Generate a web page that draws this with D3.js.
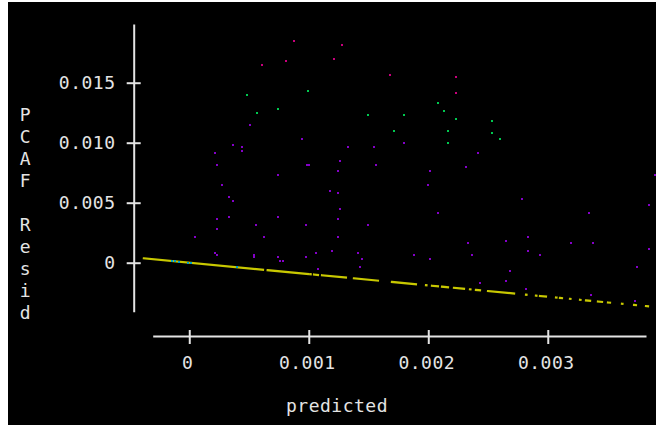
<!DOCTYPE html>
<html>
<head>
<meta charset="utf-8">
<script src="https://cdn.jsdelivr.net/npm/d3@7"></script>
<style>
  html, body { margin: 0; padding: 0; background: #ffffff; }
  svg { display: block; }
  text { font-family: "DejaVu Sans Mono", "Liberation Mono", monospace; font-size: 18px; letter-spacing: 0.5px; }
</style>
</head>
<body>
<svg id="chart" width="656" height="425"></svg>
<script>
// Axis tick values
const predTicks = [0, 0.001, 0.002, 0.003];
const residTicks = [0, 0.005, 0.010, 0.015];

// Axis titles
const xTitle = "predicted";
const yTitle = "PCAF Resid";

// Points with observed = 0: runs of consecutive points (start / end of each run)
const zeroRunPredStart  = [-0.000380, 0.000656, 0.001012, 0.001044, 0.001111, 0.001378, 0.001696, 0.001981, 0.002031, 0.002115, 0.002215, 0.002349, 0.002399, 0.002500, 0.002818, 0.002901, 0.002935, 0.003069, 0.003102, 0.003186, 0.003270, 0.003320, 0.003420, 0.003504, 0.003621, 0.003722, 0.003822];
const zeroRunPredEnd    = [ 0.000617, 0.000993, 0.001016, 0.001077, 0.001311, 0.001579, 0.001897, 0.001985, 0.002081, 0.002165, 0.002299, 0.002353, 0.002433, 0.002718, 0.002822, 0.002905, 0.002985, 0.003073, 0.003119, 0.003190, 0.003274, 0.003354, 0.003454, 0.003521, 0.003625, 0.003738, 0.003839];
const zeroRunResidStart = [ 0.000361, -0.000621, -0.000958, -0.000988, -0.001051, -0.001304, -0.001604, -0.001874, -0.001921, -0.002001, -0.002095, -0.002222, -0.002270, -0.002365, -0.002666, -0.002744, -0.002777, -0.002903, -0.002934, -0.003014, -0.003093, -0.003141, -0.003235, -0.003315, -0.003425, -0.003521, -0.003616];
const zeroRunResidEnd   = [-0.000587, -0.000939, -0.000961, -0.001019, -0.001240, -0.001494, -0.001795, -0.001878, -0.001969, -0.002048, -0.002175, -0.002226, -0.002302, -0.002571, -0.002670, -0.002748, -0.002824, -0.002907, -0.002951, -0.003018, -0.003097, -0.003173, -0.003268, -0.003331, -0.003429, -0.003536, -0.003632];

// Low-value points sitting on the zero line
const lowPred  = [-0.000145, -0.000120, -0.000089, -0.000011, 0.000014, 0.000399];
const lowResid = [ 0.000137,  0.000113,  0.000084,  0.000010, -0.000013, -0.000378];

// Highest residual group
const highPred  = [0.000874, 0.001275, 0.000606, 0.000807, 0.001208, 0.001680, 0.002234, 0.002234];
const highResid = [0.018475, 0.018142, 0.016475, 0.016808, 0.016975, 0.015642, 0.015475, 0.014142];

// Upper-middle residual group
const midPred  = [0.000485, 0.000991, 0.000569, 0.000740, 0.001493, 0.002084, 0.002134, 0.001797, 0.002234, 0.001713, 0.002167, 0.002167, 0.002536, 0.002536, 0.002603];
const midResid = [0.013975, 0.014308, 0.012475, 0.012808, 0.012308, 0.013308, 0.012642, 0.012308, 0.011975, 0.010975, 0.010975, 0.009975, 0.011808, 0.010808, 0.010308];

// Remaining points
const restPred = [
  0.000505, 0.000941, 0.000368, 0.000438, 0.000438, 0.000218, 0.000234, 0.000740, 0.000985, 0.001005,
  0.001326, 0.001543, 0.001259, 0.001242, 0.001560, 0.001797, 0.002418, 0.002318, 0.002017, 0.003897,
  0.000271, 0.000335, 0.000368, 0.001175, 0.001242, 0.001259, 0.000234, 0.000335, 0.000740, 0.001242,
  0.000234, 0.000556, 0.000974, 0.001493, 0.000050, 0.000623, 0.001242, 0.000218, 0.000234, 0.000539,
  0.000539, 0.000740, 0.000974, 0.001058, 0.001192, 0.001409, 0.001443, 0.001426, 0.000757, 0.000781,
  0.001074, 0.002000, 0.002084, 0.002787, 0.003844, 0.003342, 0.002335, 0.002653, 0.002837, 0.002837,
  0.003192, 0.003376, 0.003844, 0.001880, 0.002017, 0.002368, 0.002937, 0.002686, 0.003744, 0.002435,
  0.002653, 0.002820, 0.003359, 0.003727
];
const restResid = [
  0.011475, 0.010308, 0.009808, 0.009642, 0.009308, 0.009142, 0.008142, 0.007308, 0.008142, 0.008142,
  0.009642, 0.009642, 0.008475, 0.007642, 0.008142, 0.009975, 0.009142, 0.007975, 0.007642, 0.007308,
  0.006475, 0.005475, 0.005142, 0.005975, 0.005808, 0.004475, 0.003642, 0.003808, 0.003808, 0.003642,
  0.002808, 0.003142, 0.003142, 0.003142, 0.002142, 0.002142, 0.002142, 0.000808, 0.000642, 0.000642,
  0.000475, 0.000475, 0.000475, 0.000808, 0.000975, 0.000808, 0.000308, -0.000358, 0.000142, 0.000142,
  -0.000525, 0.006475, 0.004142, 0.005308, 0.004808, 0.004142, 0.001642, 0.001808, 0.002142, 0.000975,
  0.001642, 0.001642, 0.001142, 0.000642, 0.000308, 0.000642, 0.000642, -0.000692, -0.000358, -0.001692,
  -0.001525, -0.002192, -0.002692, -0.003192
];

const W = 656, H = 425;
const svg = d3.select("#chart");

// Window: white frame strip and black plotting surface
svg.append("rect").attr("width", W).attr("height", H).attr("fill", "#ffffff");
svg.append("rect").attr("x", 8).attr("y", 2).attr("width", W - 8).attr("height", H - 2).attr("fill", "#000000");

const x = d3.scaleLinear().domain([-0.000306, 0.003822]).range([152.7, 646]);
const y = d3.scaleLinear().domain([-0.004083, 0.019892]).range([311.7, 24]);

const axisColor = "#e4e4e4";
const fmt = d => d === 0 ? "0" : d3.format(".3f")(d);

// Y axis with ticks crossing the line
const gy = svg.append("g").attr("transform", "translate(133.7,0)")
  .call(d3.axisLeft(y).tickValues(residTicks).tickSizeInner(7).tickSizeOuter(0).tickPadding(11.2).tickFormat(fmt));
gy.attr("font-family", null).attr("font-size", null);
gy.select(".domain").attr("stroke", axisColor).attr("stroke-width", 2);
gy.selectAll(".tick line").attr("stroke", axisColor).attr("stroke-width", 2).attr("x1", 7);
gy.selectAll(".tick text").attr("fill", axisColor);

// X axis, offset below the plot
const gx = svg.append("g").attr("transform", "translate(0,336)")
  .call(d3.axisBottom(x).tickValues(predTicks).tickSizeInner(8).tickSizeOuter(0).tickPadding(12.5).tickFormat(fmt));
gx.attr("font-family", null).attr("font-size", null);
gx.select(".domain").attr("stroke", axisColor).attr("stroke-width", 2);
gx.selectAll(".tick line").attr("stroke", axisColor).attr("stroke-width", 2).attr("y1", -6);
gx.selectAll(".tick text").attr("fill", axisColor).attr("dx", -2);

// Axis titles
svg.append("text").attr("x", 337).attr("y", 412).attr("text-anchor", "middle")
  .attr("fill", axisColor).text(xTitle);

svg.append("g").selectAll("text").data(yTitle.split(""))
  .join("text")
  .attr("x", 25.3).attr("y", (d, i) => 121 + i * 22)
  .attr("text-anchor", "middle").attr("fill", axisColor)
  .text(d => d);

// Runs of zero-observation points
const runs = zeroRunPredStart.map((p, i) => ({
  x0: p, x1: zeroRunPredEnd[i], y0: zeroRunResidStart[i], y1: zeroRunResidEnd[i]
}));
svg.append("g").selectAll("line").data(runs).join("line")
  .attr("x1", d => x(d.x0)).attr("y1", d => y(d.y0))
  .attr("x2", d => x(d.x1)).attr("y2", d => y(d.y1))
  .attr("stroke", "#c8c800").attr("stroke-width", 2.2).attr("stroke-linecap", "square");

// Scatter points drawn as 2x2 squares
function drawPoints(px, py, color) {
  const pts = px.map((p, i) => [p, py[i]]);
  svg.append("g").selectAll("rect").data(pts).join("rect")
    .attr("x", d => Math.round(x(d[0]) - 1))
    .attr("y", d => Math.round(y(d[1]) - 1))
    .attr("width", 2).attr("height", 2)
    .attr("shape-rendering", "crispEdges")
    .attr("fill", color);
}
drawPoints(lowPred, lowResid, "#00a0c8");
drawPoints(restPred, restResid, "#8400c8");
drawPoints(midPred, midResid, "#00c850");
drawPoints(highPred, highResid, "#c8007c");
</script>
</body>
</html>
